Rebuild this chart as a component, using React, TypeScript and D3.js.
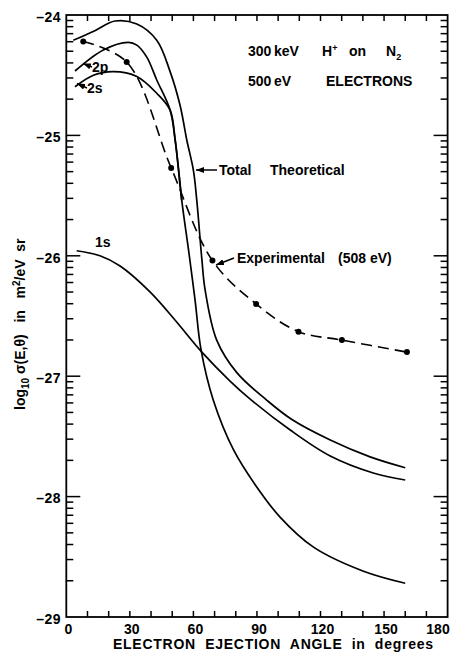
import { useEffect, useRef } from 'react';
import * as d3 from 'd3';

const W = 460;
const H = 656;

// axis labels
const xTickLabels = [0, 30, 60, 90, 120, 150, 180];
const yTickLabels = [-24, -25, -26, -27, -28, -29];

// total theoretical (angle in degrees, log10 sigma)
const totalAngle = [3.3, 13.5, 23.0, 33.3, 42.7, 49.0, 53.7, 56.9, 60.0, 61.6, 64.0, 65.5, 71.0, 80.5, 94.7, 106.5, 124.6, 143.4, 160];
const totalLog = [-24.21, -24.13, -24.05, -24.075, -24.21, -24.47, -24.75, -25.04, -25.29, -25.54, -26.03, -26.28, -26.7, -26.97, -27.2, -27.36, -27.53, -27.67, -27.76];

// 2p and 2s up to where they join
const p2Angle = [4.1, 17.5, 29.3, 33.3, 38.0, 42.7, 49.0];
const p2Log = [-24.465, -24.29, -24.227, -24.25, -24.35, -24.54, -24.79];
const s2Angle = [4.1, 12.8, 22.2, 33.3, 42.7, 49.0];
const s2Log = [-24.596, -24.5, -24.47, -24.51, -24.65, -24.79];

// shared 2p/2s branch after the join
const innerAngle = [51.4, 54.5, 58.0, 60.8, 63.6, 69.4, 78.9, 89.9, 100.9, 116.7, 140.3, 160];
const innerLog = [-25.04, -25.54, -25.99, -26.37, -26.78, -27.2, -27.61, -27.92, -28.17, -28.42, -28.62, -28.72];

// 1s
const s1Angle = [4.9, 15.9, 25.4, 39.5, 51.3, 64.0, 77.3, 86.8, 105.7, 124.6, 144.9, 160];
const s1Log = [-25.958, -26.0, -26.085, -26.3, -26.533, -26.8, -27.04, -27.19, -27.447, -27.663, -27.804, -27.862];

// experimental (508 eV)
const expAngle = [8, 28.5, 49.5, 69, 89.6, 109.6, 130.1, 160.8];
const expLog = [-24.22, -24.39, -25.27, -26.04, -26.4, -26.63, -26.7, -26.8];

type Pt = [number, number];
const zip = (a: number[], b: number[]): Pt[] => a.map((v, i) => [v, b[i]]);

export default function App() {
  const svgRef = useRef<SVGSVGElement>(null);

  useEffect(() => {
    if (!svgRef.current) return;
    const svg = d3.select(svgRef.current);
    svg.selectAll('*').remove();

    const x = d3.scaleLinear().domain([0, 180]).range([66.3, 447.6]);
    const y = d3.scaleLinear().domain([-24, -29]).range([15, 617]);
    const font = 'Liberation Sans, Arial, sans-serif';

    const defs = svg.append('defs');
    defs.append('marker')
      .attr('id', 'arr')
      .attr('viewBox', '0 0 8 6')
      .attr('refX', 8)
      .attr('refY', 3)
      .attr('markerWidth', 8)
      .attr('markerHeight', 6)
      .attr('markerUnits', 'userSpaceOnUse')
      .attr('orient', 'auto')
      .append('path')
      .attr('d', 'M0,0L8,3L0,6Z')
      .attr('fill', '#000');

    const g = svg.append('g');

    // frame
    g.append('rect')
      .attr('x', x(0))
      .attr('y', y(-24))
      .attr('width', x(180) - x(0))
      .attr('height', y(-29) - y(-24))
      .attr('fill', 'none')
      .attr('stroke', '#000')
      .attr('stroke-width', 1.8);

    // x ticks every 10 deg, top and bottom, inward
    const xt = d3.range(10, 180, 10);
    g.selectAll('.xtb').data(xt).enter().append('line')
      .attr('x1', (d) => x(d)).attr('x2', (d) => x(d))
      .attr('y1', y(-29)).attr('y2', y(-29) - 6)
      .attr('stroke', '#000').attr('stroke-width', 1.5);
    g.selectAll('.xtt').data(xt).enter().append('line')
      .attr('x1', (d) => x(d)).attr('x2', (d) => x(d))
      .attr('y1', y(-24)).attr('y2', y(-24) + 6)
      .attr('stroke', '#000').attr('stroke-width', 1.5);

    // y ticks: majors every decade, log minors
    const minors: number[] = [];
    [-25, -26, -27, -28, -29].forEach((b) => {
      for (let k = 2; k <= 9; k++) minors.push(b + Math.log10(k));
    });
    const yTicks = [
      ...yTickLabels.slice(1, -1).map((v) => ({ v, len: 14 })),
      ...minors.map((v) => ({ v, len: 7 })),
    ];
    g.selectAll('.ytl').data(yTicks).enter().append('line')
      .attr('x1', x(0)).attr('x2', (d) => x(0) + d.len)
      .attr('y1', (d) => y(d.v)).attr('y2', (d) => y(d.v))
      .attr('stroke', '#000').attr('stroke-width', 1.5);
    g.selectAll('.ytr').data(yTicks).enter().append('line')
      .attr('x1', x(180)).attr('x2', (d) => x(180) - d.len)
      .attr('y1', (d) => y(d.v)).attr('y2', (d) => y(d.v))
      .attr('stroke', '#000').attr('stroke-width', 1.5);

    // tick labels
    g.selectAll('.xl').data(xTickLabels).enter().append('text')
      .attr('x', (d) => Math.min(x(d) + 2, 438))
      .attr('y', 634)
      .attr('text-anchor', 'middle')
      .attr('font-family', font).attr('font-weight', 'bold').attr('font-size', 14)
      .text((d) => String(d));
    g.selectAll('.yl').data(yTickLabels).enter().append('text')
      .attr('x', 61)
      .attr('y', (d) => y(d) + 3)
      .attr('text-anchor', 'end')
      .attr('dominant-baseline', 'middle')
      .attr('font-family', font).attr('font-weight', 'bold').attr('font-size', 14)
      .attr('letter-spacing', 0.5)
      .text((d) => String(d).replace('-', '\u2013'));

    // axis titles
    g.append('text')
      .attr('x', 113).attr('y', 649)
      .attr('textLength', 320).attr('lengthAdjust', 'spacing')
      .attr('font-family', font).attr('font-weight', 'bold').attr('font-size', 14)
      .style('white-space', 'pre')
      .text('ELECTRON  EJECTION  ANGLE  in  degrees');

    const yl = g.append('text')
      .attr('transform', 'translate(25,410) rotate(-90)')
      .attr('font-family', font).attr('font-weight', 'bold').attr('font-size', 14)
      .style('white-space', 'pre');
    yl.append('tspan').text('log');
    yl.append('tspan').attr('dy', 4).attr('font-size', 10).text('10');
    yl.append('tspan').attr('dy', -4).text(' \u03c3(E,\u03b8)   in   m');
    yl.append('tspan').attr('dy', -5).attr('font-size', 10).text('2');
    yl.append('tspan').attr('dy', 5).text('/eV  sr');

    // curves
    const line = d3.line<Pt>()
      .x((d) => x(d[0]))
      .y((d) => y(d[1]))
      .curve(d3.curveCatmullRom.alpha(0.5));

    const inner = zip(innerAngle, innerLog);
    const solids: Pt[][] = [
      zip(totalAngle, totalLog),
      [...zip(p2Angle, p2Log), ...inner],
      [...zip(s2Angle, s2Log), ...inner.slice(0, 2)],
      zip(s1Angle, s1Log),
    ];
    g.selectAll('.curve').data(solids).enter().append('path')
      .attr('d', (d) => line(d))
      .attr('fill', 'none')
      .attr('stroke', '#000')
      .attr('stroke-width', 1.7);

    const exp = zip(expAngle, expLog);
    g.append('path')
      .datum(exp)
      .attr('d', line)
      .attr('fill', 'none')
      .attr('stroke', '#000')
      .attr('stroke-width', 1.6)
      .attr('stroke-dasharray', '11,6');
    g.selectAll('.dot').data(exp).enter().append('circle')
      .attr('cx', (d) => x(d[0]))
      .attr('cy', (d) => y(d[1]))
      .attr('r', 3)
      .attr('fill', '#000');

    // annotations
    const txt = (tx: number, ty: number, s: string, size = 14) =>
      g.append('text')
        .attr('x', tx).attr('y', ty)
        .attr('font-family', font).attr('font-weight', 'bold').attr('font-size', size)
        .style('white-space', 'pre')
        .text(s);

    txt(248, 56, '300');
    txt(274, 56, 'keV');
    const h = txt(322, 56, 'H');
    h.append('tspan').attr('dy', -5).attr('font-size', 9).text('+');
    txt(349, 56, 'on');
    const n = txt(386, 56, 'N');
    n.append('tspan').attr('dy', 4).attr('font-size', 9).text('2');
    txt(248, 86, '500');
    txt(274, 86, 'eV');
    txt(326, 86, 'ELECTRONS');

    txt(219, 175, 'Total');
    txt(270, 175, 'Theoretical');
    txt(237, 263, 'Experimental');
    txt(338, 263, '(508 eV)');
    txt(95, 247, '1s');
    txt(92, 72, '2p');
    txt(87, 93, '2s');

    const arrow = (x1: number, y1: number, x2: number, y2: number) =>
      g.append('line')
        .attr('x1', x1).attr('y1', y1).attr('x2', x2).attr('y2', y2)
        .attr('stroke', '#000').attr('stroke-width', 1.5)
        .attr('marker-end', 'url(#arr)');
    arrow(217, 170, 196, 170);
    arrow(234, 258, 216, 265);
    arrow(92, 67, 83, 63.5);
    arrow(87, 88, 77, 83.5);
  }, []);

  return (
    <svg
      ref={svgRef}
      width={W}
      height={H}
      style={{ position: 'absolute', left: 0, top: 0, background: '#fff' }}
    />
  );
}
